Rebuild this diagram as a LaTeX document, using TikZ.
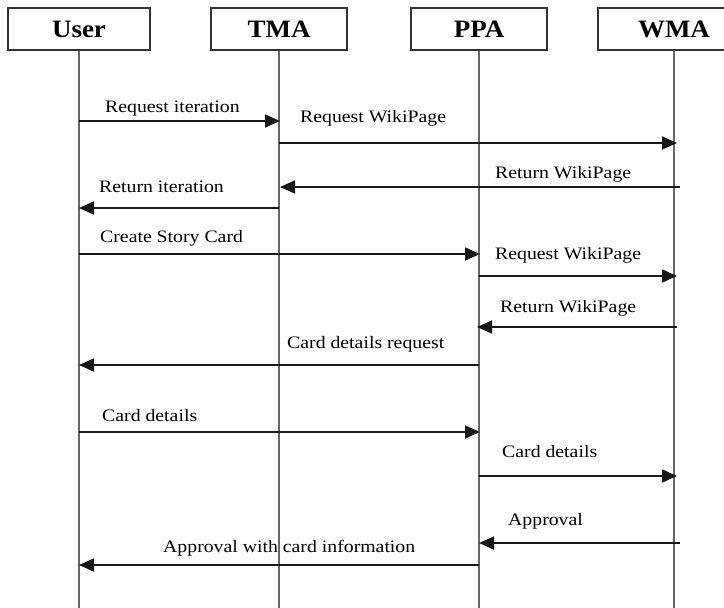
\documentclass[tikz,border=0pt]{standalone}
\usepackage{fontspec}
\setmainfont{Liberation Serif}
\newfontfamily\msgfont[FakeStretch=1.13]{Liberation Serif}
\newfontfamily\headfont[FakeStretch=1.08]{Liberation Serif Bold}
\usetikzlibrary{arrows.meta}
\begin{document}
\begin{tikzpicture}[x=1pt,y=-1pt,
  actor/.style={draw=black!80, line width=1.2pt, minimum height=42pt, inner sep=0pt,
    font=\headfont\fontsize{25}{25}\selectfont},
  lifeline/.style={draw=black!60, line width=1.8pt},
  msg/.style={draw=black!90, line width=1.8pt, -{Triangle[length=15pt,width=13pt]}},
  lbl/.style={anchor=base west, inner sep=0pt, text=black,
    font=\msgfont\fontsize{17.5}{17.5}\selectfont}]
\clip (0,0) rectangle (724,608);
\fill[white] (0,0) rectangle (724,608);

% participants
\node[actor, minimum width=142pt] (user) at (79,29)  {User};
\node[actor, minimum width=136pt] (tma)  at (279,29) {TMA};
\node[actor, minimum width=136pt] (ppa)  at (479,29) {PPA};
\node[actor, minimum width=152pt] (wma)  at (674,29) {WMA};

% lifeline ends
\coordinate (userE) at (79,608);
\coordinate (tmaE)  at (279,608);
\coordinate (ppaE)  at (479,608);
\coordinate (wmaE)  at (674,608);
\draw[lifeline] (user.south) -- (userE);
\draw[lifeline] (tma.south)  -- (tmaE);
\draw[lifeline] (ppa.south)  -- (ppaE);
\draw[lifeline] (wma.south)  -- (wmaE);

% message end points
\coordinate (a1) at (79,121);  \coordinate (b1) at (280,121);
\coordinate (a2) at (279,143); \coordinate (b2) at (677,143);
\coordinate (a3) at (680,187); \coordinate (b3) at (280,187);
\coordinate (a4) at (279,208); \coordinate (b4) at (79,208);
\coordinate (a5) at (79,254);  \coordinate (b5) at (480,254);
\coordinate (a6) at (479,276); \coordinate (b6) at (677,276);
\coordinate (a7) at (677,327); \coordinate (b7) at (477,327);
\coordinate (a8) at (479,365); \coordinate (b8) at (79,365);
\coordinate (a9) at (79,432);  \coordinate (b9) at (480,432);
\coordinate (a10) at (479,476); \coordinate (b10) at (677,476);
\coordinate (a11) at (680,543); \coordinate (b11) at (479,543);
\coordinate (a12) at (479,565); \coordinate (b12) at (79,565);

% messages
\draw[msg] (a1) -- (b1);
\draw[msg] (a2) -- (b2);
\draw[msg] (a3) -- (b3);
\draw[msg] (a4) -- (b4);
\draw[msg] (a5) -- (b5);
\draw[msg] (a6) -- (b6);
\draw[msg] (a7) -- (b7);
\draw[msg] (a8) -- (b8);
\draw[msg] (a9) -- (b9);
\draw[msg] (a10) -- (b10);
\draw[msg] (a11) -- (b11);
\draw[msg] (a12) -- (b12);

% message labels
\node[lbl] (l1)  at (105,112) {Request iteration};
\node[lbl] (l2)  at (300,122) {Request WikiPage};
\node[lbl] (l3)  at (495,178) {Return WikiPage};
\node[lbl] (l4)  at (99,192)  {Return iteration};
\node[lbl] (l5)  at (100,242) {Create Story Card};
\node[lbl] (l6)  at (495,259) {Request WikiPage};
\node[lbl] (l7)  at (500,312) {Return WikiPage};
\node[lbl] (l8)  at (287,348) {Card details request};
\node[lbl] (l9)  at (102,421) {Card details};
\node[lbl] (l10) at (502,457) {Card details};
\node[lbl] (l11) at (508,525) {Approval};
\node[lbl] (l12) at (163,552) {Approval with card information};
\end{tikzpicture}
\end{document}
